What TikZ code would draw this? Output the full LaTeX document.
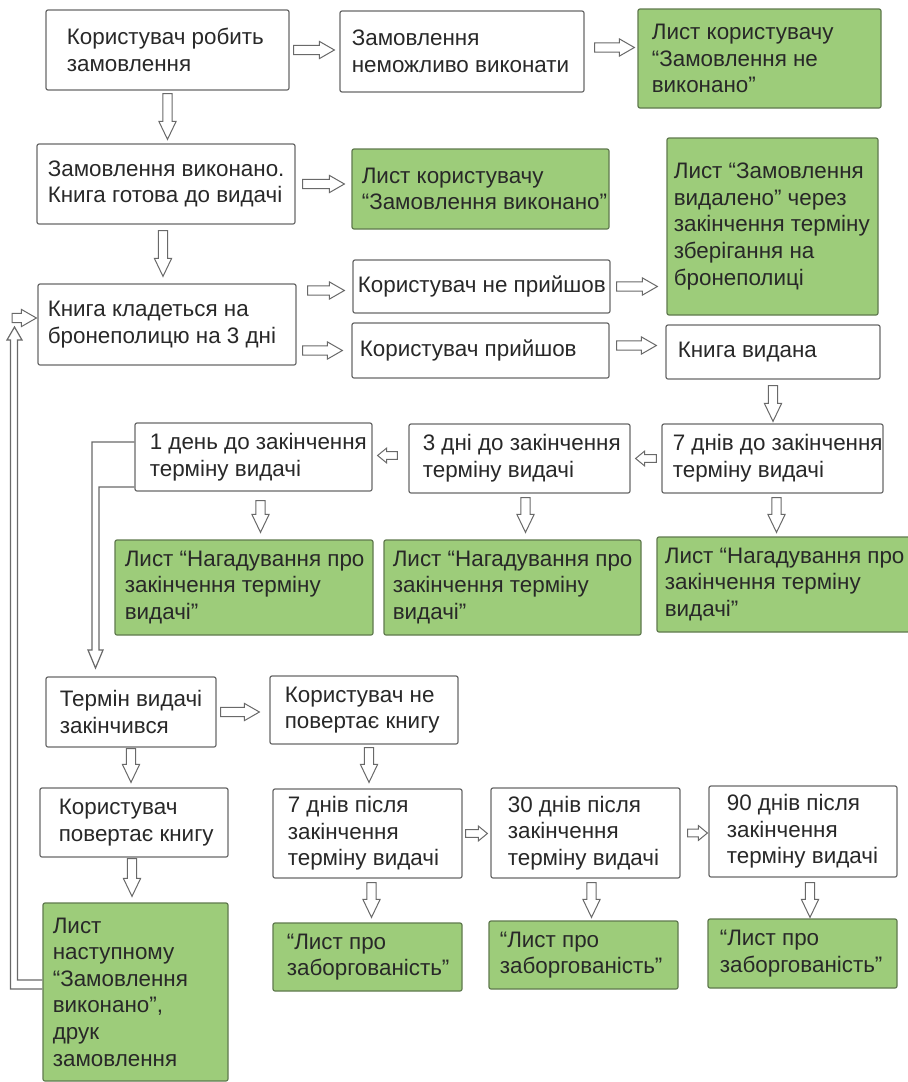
\documentclass[tikz,border=0pt]{standalone}
\usepackage{fontspec}
\setmainfont{Liberation Sans}
\usetikzlibrary{calc,fit}

\definecolor{boxline}{RGB}{105,105,105}
\definecolor{leafgreen}{RGB}{157,204,122}
\definecolor{leafline}{RGB}{96,122,78}
\definecolor{inkgray}{RGB}{40,40,40}

\tikzset{
	wbox/.style={draw=boxline, fill=white, line width=0.6pt, rounded corners=1pt, inner sep=0pt},
	gbox/.style={draw=leafline, fill=leafgreen, line width=0.6pt, rounded corners=1pt, inner sep=0pt},
	txt/.style={anchor=west, align=left, inner sep=0pt, text=inkgray, font=\fontsize{11.2}{13.3}\selectfont},
	% hollow block arrow: shaft half width, head half width, head length
	blk/.style n args={3}{draw=boxline, fill=white, line width=0.5pt,
		to path={
			($(\tikztostart)!#1!90:(\tikztotarget)$)
			-- ($(\tikztotarget)!#3!(\tikztostart)!#1!90:(\tikztotarget)$)
			-- ($(\tikztotarget)!#3!(\tikztostart)!#2!90:(\tikztotarget)$)
			-- (\tikztotarget)
			-- ($(\tikztotarget)!#3!(\tikztostart)!#2!-90:(\tikztotarget)$)
			-- ($(\tikztotarget)!#3!(\tikztostart)!#1!-90:(\tikztotarget)$)
			-- ($(\tikztostart)!#1!-90:(\tikztotarget)$)
			-- cycle}},
	harr/.style={blk={2.3pt}{4.3pt}{7.5pt}},
	varr/.style={blk={2.3pt}{4.3pt}{9pt}},
	sarr/.style={blk={1.9pt}{3.7pt}{4.5pt}},
	loopline/.style={draw=boxline, line width=0.6pt},
}

\begin{document}
\begin{tikzpicture}[x=0.5pt, y=-0.5pt]
	\path[use as bounding box, fill=white] (0,0) rectangle (907,1082);

	% order and shelf
	\node[wbox, fit={(46,10) (289,90)}] (order) {};
	\node[txt] (order-t) at ([xshift=10.5pt]order.west) {Користувач робить\\замовлення};
	\node[wbox, fit={(340,11) (584,92)}] (fail) {};
	\node[txt] (fail-t) at ([xshift=6pt]fail.west) {Замовлення\\неможливо виконати};
	\node[gbox, fit={(638,9) (881,108)}] (mailfail) {};
	\node[txt] (mailfail-t) at ([xshift=7pt]mailfail.west) {Лист користувачу\\“Замовлення не\\виконано”};
	\node[wbox, fit={(37,144) (295,224)}] (done) {};
	\node[txt] (done-t) at ([xshift=5.5pt]done.west) {Замовлення виконано.\\Книга готова до видачі};
	\node[gbox, fit={(352,149) (609,229)}] (maildone) {};
	\node[txt] (maildone-t) at ([xshift=5pt]maildone.west) {Лист користувачу\\“Замовлення виконано”};
	\node[gbox, fit={(667,138) (878,315)}] (maildel) {};
	\node[txt] (maildel-t) at ([xshift=3.5pt]maildel.west) {Лист “Замовлення\\видалено” через\\закінчення терміну\\зберігання на\\бронеполиці};
	\node[wbox, fit={(38,284) (296,365)}] (shelf) {};
	\node[txt] (shelf-t) at ([xshift=5pt]shelf.west) {Книга кладеться на\\бронеполицю на 3 дні};
	\node[wbox, fit={(353,260) (610,313)}] (noshow) {};
	\node[txt] (noshow-t) at ([xshift=2.5pt]noshow.west) {Користувач не прийшов};
	\node[wbox, fit={(352,323) (609,378)}] (came) {};
	\node[txt] (came-t) at ([xshift=4pt]came.west) {Користувач прийшов};
	\node[wbox, fit={(666,325) (880,379)}] (issued) {};
	\node[txt] (issued-t) at ([xshift=6pt]issued.west) {Книга видана};

	% reminders
	\node[wbox, fit={(662,424) (883,493)}] (d7) {};
	\node[txt] (d7-t) at ([xshift=5.5pt]d7.west) {7 днів до закінчення\\терміну видачі};
	\node[wbox, fit={(409,424) (630,493)}] (d3) {};
	\node[txt] (d3-t) at ([xshift=7pt]d3.west) {3 дні до закінчення\\терміну видачі};
	\node[wbox, fit={(135,423) (372,491)}] (d1) {};
	\node[txt] (d1-t) at ([xshift=7.5pt]d1.west) {1 день до закінчення\\терміну видачі};
	\node[gbox, fit={(115,540) (373,635)}] (rem1) {};
	\node[txt] (rem1-t) at ([xshift=5pt]rem1.west) {Лист “Нагадування про\\закінчення терміну\\видачі”};
	\node[gbox, fit={(384,540) (641,635)}] (rem3) {};
	\node[txt] (rem3-t) at ([xshift=4.5pt]rem3.west) {Лист “Нагадування про\\закінчення терміну\\видачі”};
	\node[gbox, fit={(657,537) (912,632)}] (rem7) {};
	\node[txt] (rem7-t) at ([xshift=4pt]rem7.west) {Лист “Нагадування про\\закінчення терміну\\видачі”};

	% expired
	\node[wbox, fit={(46,677) (216,747)}] (expired) {};
	\node[txt] (expired-t) at ([xshift=7pt]expired.west) {Термін видачі\\закінчився};
	\node[wbox, fit={(270,676) (458,744)}] (keeps) {};
	\node[txt] (keeps-t) at ([xshift=7.5pt]keeps.west) {Користувач не\\повертає книгу};
	\node[wbox, fit={(40,788) (228,857)}] (returns) {};
	\node[txt] (returns-t) at ([xshift=9.5pt]returns.west) {Користувач\\повертає книгу};
	\node[wbox, fit={(273,789) (462,878)}] (late7) {};
	\node[txt] (late7-t) at ([xshift=7.5pt]late7.west) {7 днів після\\закінчення\\терміну видачі};
	\node[wbox, fit={(491,788) (680,878)}] (late30) {};
	\node[txt] (late30-t) at ([xshift=8.5pt]late30.west) {30 днів після\\закінчення\\терміну видачі};
	\node[wbox, fit={(709,786) (897,877)}] (late90) {};
	\node[txt] (late90-t) at ([xshift=9pt]late90.west) {90 днів після\\закінчення\\терміну видачі};
	\node[gbox, fit={(43,903) (228,1081)}] (next) {};
	\node[txt] (next-t) at ([xshift=5pt]next.west) {Лист\\наступному\\“Замовлення\\виконано”,\\друк\\замовлення};
	\node[gbox, fit={(273,923) (462,991)}] (debt7) {};
	\node[txt] (debt7-t) at ([xshift=7pt]debt7.west) {“Лист про\\заборгованість”};
	\node[gbox, fit={(489,921) (678,989)}] (debt30) {};
	\node[txt] (debt30-t) at ([xshift=5.5pt]debt30.west) {“Лист про\\заборгованість”};
	\node[gbox, fit={(708,919) (897,988)}] (debt90) {};
	\node[txt] (debt90-t) at ([xshift=6pt]debt90.west) {“Лист про\\заборгованість”};

	% arrows
	\draw[harr] ([xshift=2pt]order.east) to ([xshift=-2.5pt]fail.west |- order.east);
	\draw[harr] ([xshift=5pt,yshift=2pt]fail.east) to ([xshift=-1.5pt,yshift=2pt]mailfail.west |- fail.east);
	\draw[varr] ([yshift=-1.5pt]order.south) to ([yshift=2pt]done.north -| order.south);
	\draw[harr] ([xshift=3.5pt]done.east) to ([xshift=-3.5pt]maildone.west |- done.east);
	\draw[varr] ([xshift=-1.5pt,yshift=-3pt]done.south) to ([xshift=-1.5pt,yshift=3.5pt]shelf.north -| done.south);
	\draw[harr] ([xshift=5.5pt,yshift=-2pt]shelf.east |- noshow.west) to ([xshift=-4pt,yshift=-2pt]noshow.west);
	\draw[harr] ([xshift=3pt]shelf.east |- came.west) to ([xshift=-4.5pt]came.west);
	\draw[harr] ([xshift=3pt]noshow.east) to ([xshift=-4.5pt]maildel.west |- noshow.east);
	\draw[harr] ([xshift=3.5pt,yshift=2.5pt]came.east) to ([xshift=-4.5pt,yshift=2.5pt]issued.west |- came.east);
	\draw[varr] ([yshift=-3pt]issued.south) to ([yshift=1pt]d7.north -| issued.south);
	\draw[sarr] ([xshift=-2.5pt]d7.west) to ([xshift=2.5pt]d3.east |- d7.west);
	\draw[sarr] ([xshift=-5.5pt,yshift=1.5pt]d3.west) to ([xshift=2.5pt,yshift=1.5pt]d1.east |- d3.west);
	\draw[varr] ([xshift=3.5pt,yshift=-4.5pt]d1.south) to ([xshift=3.5pt,yshift=3.5pt]rem1.north -| d1.south);
	\draw[varr] ([xshift=3pt,yshift=-2pt]d3.south) to ([xshift=3pt,yshift=3.5pt]rem3.north -| d3.south);
	\draw[varr] ([xshift=2pt,yshift=-2pt]d7.south) to ([xshift=2pt,yshift=2pt]rem7.north -| d7.south);
	\draw[harr] ([xshift=2pt]expired.east) to ([xshift=-5pt]keeps.west |- expired.east);
	\draw[varr] ([yshift=-0.5pt]expired.south) to ([yshift=2.5pt]returns.north -| expired.south);
	\draw[varr] ([xshift=-1pt,yshift=-0.5pt]returns.south) to ([xshift=-1pt,yshift=3pt]next.north -| returns.south);
	\draw[varr] ([xshift=2.5pt,yshift=-1.5pt]keeps.south) to ([xshift=2.5pt,yshift=3pt]late7.north -| keeps.south);
	\draw[varr] ([xshift=2pt,yshift=-2pt]late7.south) to ([xshift=2pt,yshift=2.5pt]debt7.north -| late7.south);
	\draw[sarr] ([xshift=1.5pt]late7.east) to ([xshift=-1.5pt]late30.west |- late7.east);
	\draw[sarr] ([xshift=3.5pt]late30.east) to ([xshift=-0.5pt]late90.west |- late30.east);
	\draw[varr] ([xshift=3pt,yshift=-2pt]late30.south) to ([xshift=3pt,yshift=1.5pt]debt30.north -| late30.south);
	\draw[varr] ([xshift=3.5pt,yshift=-2.5pt]late90.south) to ([xshift=3.5pt,yshift=0.5pt]debt90.north -| late90.south);

	% loops back
	\coordinate (qin) at (95.5,668);
	\draw[loopline] (d1.west |- 0,442) -| (92,650) -- (88,650) -- (qin) -- (103,650) -- (99,650) |- (d1.west |- 0,487);
	\coordinate (gin) at (14.5,327);
	\draw[loopline] (next.west |- 0,989) -| (10.5,340) -- (7,340) -- (gin) -- (22,340) -- (17.5,340) |- (next.west |- 0,980);
	\coordinate (gfeed) at (12,318);
	\draw[harr] (gfeed) to ([xshift=-0.5pt]shelf.west |- gfeed);
\end{tikzpicture}
\end{document}
